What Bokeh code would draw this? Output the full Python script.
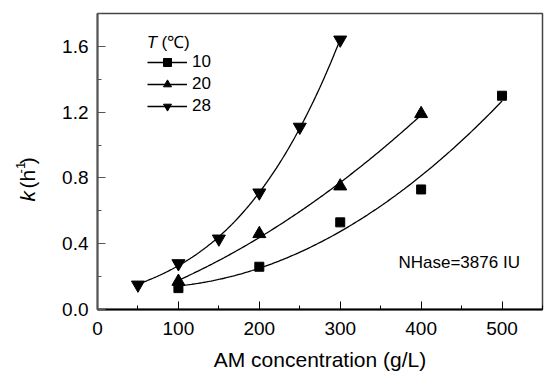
import numpy as np
from math import pi
from bokeh.plotting import figure
from bokeh.layouts import row
from bokeh.models import Range1d, FixedTicker, PrintfTickFormatter, Legend, LegendItem, Label
from bokeh.embed import file_html
from bokeh.resources import INLINE

# ---- data ----
conc_10 = [100, 200, 300, 400, 500]
k_10 = [0.13, 0.26, 0.53, 0.73, 1.30]
conc_20 = [100, 200, 300, 400]
k_20 = [0.17, 0.46, 0.75, 1.19]
conc_28 = [50, 100, 150, 200, 250, 300]
k_28 = [0.15, 0.28, 0.43, 0.71, 1.11, 1.64]
series_labels = ["10", "20", "28"]
x_ticks = [0, 100, 200, 300, 400, 500]
x_minor = [50, 150, 250, 350, 450, 550]
y_ticks = [0.0, 0.4, 0.8, 1.2, 1.6]
y_minor = [0.2, 0.6, 1.0, 1.4, 1.8]

FONT = "Liberation Sans"
H = 373
LW = 50   # width of the strip carrying the y title

p = figure(width=544 - LW, height=H, x_range=Range1d(0, 550), y_range=Range1d(0, 1.8),
           output_backend="svg", toolbar_location=None,
           min_border_left=97 - LW, min_border_right=2, min_border_top=13, min_border_bottom=63)
p.grid.visible = False
p.outline_line_color = "#444444"
p.outline_line_width = 1.5

for ax in (p.xaxis, p.yaxis):
    ax.major_tick_in = 8
    ax.major_tick_out = 0
    ax.minor_tick_in = 4
    ax.minor_tick_out = 0
    ax.major_label_text_font = FONT
    ax.major_label_text_font_size = "19px"
    ax.major_label_text_color = "black"
    ax.axis_line_width = 2

p.xaxis.ticker = FixedTicker(ticks=x_ticks, minor_ticks=x_minor)
p.yaxis.ticker = FixedTicker(ticks=y_ticks, minor_ticks=y_minor)
p.yaxis.formatter = PrintfTickFormatter(format="%.1f")
p.xaxis.axis_line_color = "black"
p.yaxis.axis_line_color = "#555555"
p.yaxis.major_tick_line_color = "#555555"
p.yaxis.minor_tick_line_color = "#555555"
p.xaxis.major_label_standoff = 12
p.yaxis.major_label_standoff = 9

p.xaxis.axis_label = "AM concentration (g/L)"
p.xaxis.axis_label_text_font = FONT
p.xaxis.axis_label_text_font_size = "21px"
p.xaxis.axis_label_text_font_style = "normal"
p.xaxis.axis_label_text_color = "black"
p.xaxis.axis_label_standoff = 10


def fit(x, y, deg):
    xs = np.linspace(x[0], x[-1], 150)
    return xs, np.polyval(np.polyfit(x, y, deg), xs)


items = []
for (cx, ky, deg, marker, msize, lab) in [
    (conc_10, k_10, 2, "square", 9, series_labels[0]),
    (conc_20, k_20, 2, "triangle", 13, series_labels[1]),
    (conc_28, k_28, 3, "inverted_triangle", 13, series_labels[2]),
]:
    xs, ys = fit(cx, ky, deg)
    lr = p.line(xs, ys, line_color="black", line_width=1.3)
    mr = p.scatter(cx, ky, marker=marker, size=msize, fill_color="black", line_color="black")
    items.append(LegendItem(label=lab, renderers=[lr, mr]))

legend = Legend(items=items, location=(50, 193), orientation="vertical",
                glyph_width=40, glyph_height=20, label_height=20, spacing=2,
                label_standoff=5, padding=0, margin=0,
                label_text_font=FONT, label_text_font_size="17px",
                label_text_color="black",
                background_fill_alpha=0, border_line_alpha=0)
p.add_layout(legend)

# legend title "T (℃)"
p.add_layout(Label(x=61, y=1.625, text="T", text_font=FONT, text_font_style="italic",
                   text_font_size="17px", text_baseline="alphabetic", text_color="black"))
p.add_layout(Label(x=79, y=1.625, text="(℃)", text_font=FONT, text_color="black",
                   text_font_size="17px", text_baseline="alphabetic"))

# annotation
p.add_layout(Label(x=372, y=0.285, text="NHase=3876 IU", text_font=FONT, text_color="black",
                   text_font_size="17px", text_baseline="alphabetic"))

# ---- y title strip: italic k, (h, superscript -1, ) ----
q = figure(width=LW, height=H, x_range=Range1d(0, LW), y_range=Range1d(0, H),
           output_backend="svg", toolbar_location=None,
           x_axis_type=None, y_axis_type=None, min_border=0)
q.grid.visible = False
q.outline_line_color = None
for txt, yy, xx, style, size in [
    ("k", 136, 27, "italic", "21px"),
    ("(h", 152.5, 27, "normal", "21px"),
    ("-1", 171.5, 20, "normal", "13px"),
    (")", 183, 27, "normal", "21px"),
]:
    q.add_layout(Label(x=xx, y=yy, text=txt, text_font=FONT, text_font_style=style,
                       text_font_size=size, angle=pi / 2, text_align="left",
                       text_baseline="middle", text_color="black"))

layout = row(q, p, spacing=0)
open("out.html", "w").write(file_html(layout, INLINE))
